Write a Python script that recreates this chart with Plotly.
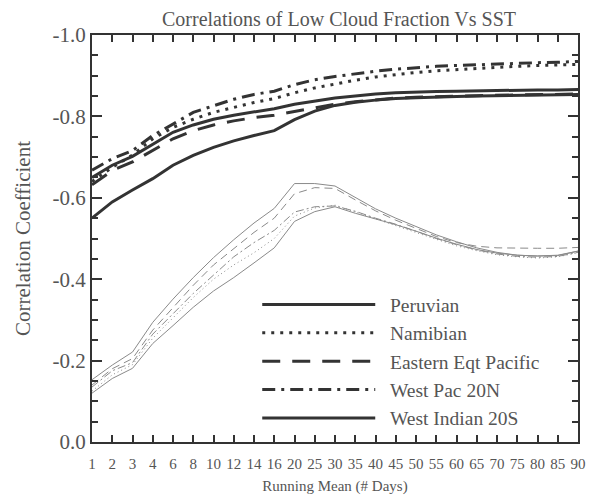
import plotly.graph_objects as go

# Running-mean window lengths (categorical, evenly spaced on the axis)
days = ["1", "2", "3", "4", "6", "8", "10", "12", "14", "16", "20", "25", "30",
        "35", "40", "45", "50", "55", "60", "65", "70", "75", "80", "85", "90"]

# Thick curves (legend series)
peruvian = [-0.650, -0.680, -0.702, -0.732, -0.761, -0.779, -0.793, -0.803, -0.811, -0.819,
            -0.830, -0.838, -0.845, -0.850, -0.855, -0.858, -0.860, -0.861, -0.862, -0.863,
            -0.864, -0.864, -0.865, -0.865, -0.866]
namibian = [-0.640, -0.675, -0.705, -0.745, -0.773, -0.793, -0.810, -0.822, -0.834, -0.844,
            -0.858, -0.870, -0.880, -0.889, -0.897, -0.903, -0.908, -0.912, -0.915, -0.918,
            -0.921, -0.923, -0.925, -0.927, -0.928]
eastern_eqt_pacific = [-0.632, -0.667, -0.688, -0.716, -0.745, -0.765, -0.779, -0.789, -0.797, -0.803,
                       -0.812, -0.822, -0.830, -0.836, -0.841, -0.845, -0.847, -0.849, -0.850, -0.851,
                       -0.852, -0.853, -0.853, -0.854, -0.855]
west_pac_20n = [-0.668, -0.696, -0.716, -0.753, -0.781, -0.810, -0.826, -0.842, -0.854, -0.862,
                -0.878, -0.890, -0.898, -0.905, -0.911, -0.916, -0.920, -0.923, -0.925, -0.927,
                -0.929, -0.931, -0.932, -0.933, -0.935]
west_indian_20s = [-0.550, -0.590, -0.619, -0.647, -0.680, -0.704, -0.724, -0.740, -0.753, -0.765,
                   -0.792, -0.813, -0.827, -0.835, -0.840, -0.844, -0.846, -0.848, -0.849, -0.850,
                   -0.851, -0.852, -0.853, -0.853, -0.854]

# Thin curves (no legend entry)
thin_solid_upper = [-0.153, -0.189, -0.221, -0.294, -0.351, -0.404, -0.453, -0.497, -0.538, -0.574,
                    -0.635, -0.635, -0.629, -0.600, -0.573, -0.550, -0.530, -0.509, -0.492, -0.477,
                    -0.466, -0.459, -0.457, -0.459, -0.469]
thin_dashed = [-0.140, -0.180, -0.205, -0.275, -0.330, -0.385, -0.435, -0.475, -0.515, -0.550,
               -0.610, -0.625, -0.623, -0.595, -0.568, -0.545, -0.525, -0.505, -0.490, -0.481,
               -0.477, -0.476, -0.476, -0.476, -0.478]
thin_dotted = [-0.125, -0.165, -0.190, -0.255, -0.305, -0.355, -0.400, -0.435, -0.465, -0.500,
               -0.555, -0.575, -0.582, -0.565, -0.548, -0.532, -0.515, -0.498, -0.482, -0.470,
               -0.460, -0.455, -0.452, -0.455, -0.465]
thin_dashdot = [-0.135, -0.175, -0.195, -0.265, -0.315, -0.365, -0.410, -0.455, -0.490, -0.520,
                -0.565, -0.578, -0.580, -0.567, -0.550, -0.535, -0.518, -0.500, -0.485, -0.472,
                -0.462, -0.456, -0.454, -0.456, -0.466]
thin_solid_lower = [-0.120, -0.156, -0.181, -0.242, -0.286, -0.331, -0.371, -0.404, -0.440, -0.477,
                    -0.542, -0.566, -0.578, -0.562, -0.548, -0.534, -0.518, -0.501, -0.486, -0.473,
                    -0.464, -0.459, -0.457, -0.458, -0.469]

y_ticks = [-1.0, -0.8, -0.6, -0.4, -0.2, 0.0]
y_ticktext = ["-1.0", "-0.8", "-0.6", "-0.4", "-0.2", "0.0"]

xi = list(range(len(days)))
THICK = "#333333"
THIN = "#8a8a8a"
TEXT = "#555555"
SERIF = "Liberation Serif, Times New Roman, serif"
PAD = "\u00a0\u00a0"  # small gap between legend key and its label

fig = go.Figure()

thin_series = [
    (thin_solid_upper, "solid"),
    (thin_dashed, "8px,5px"),
    (thin_dotted, "1px,3px"),
    (thin_dashdot, "8px,3px,2px,3px"),
    (thin_solid_lower, "solid"),
]
for ys, dash in thin_series:
    fig.add_trace(go.Scatter(x=xi, y=ys, mode="lines", showlegend=False,
                             line=dict(color=THIN, width=1, dash=dash),
                             hoverinfo="skip"))

thick_series = [
    ("Peruvian", peruvian, "solid"),
    ("Namibian", namibian, "3px,6px"),
    ("Eastern Eqt Pacific", eastern_eqt_pacific, "18px,12px"),
    ("West Pac 20N", west_pac_20n, "13px,6px,3px,6px"),
    ("West Indian 20S", west_indian_20s, "solid"),
]
for name, ys, dash in thick_series:
    fig.add_trace(go.Scatter(x=xi, y=ys, mode="lines", name=PAD + name,
                             line=dict(color=THICK, width=3, dash=dash)))

axis_common = dict(showline=True, linecolor=THICK, linewidth=2, mirror="ticks",
                   ticks="inside", tickcolor=THICK, tickwidth=1.5,
                   showgrid=False, zeroline=False)

fig.update_layout(
    width=593, height=499,
    margin=dict(l=92, r=7, t=35, b=53),
    paper_bgcolor="white", plot_bgcolor="white",
    font=dict(family=SERIF, color=TEXT),
    title=dict(text="Correlations of Low Cloud Fraction Vs SST",
               x=(92 + 586) / 2 / 593, xanchor="center", y=1 - 19 / 499, yanchor="middle",
               font=dict(size=20, family=SERIF, color=TEXT)),
    xaxis=dict(range=[0, 24], tickmode="array", tickvals=xi, ticktext=days,
               ticklen=7, ticklabelstandoff=7, tickfont=dict(size=15, family=SERIF, color=TEXT),
               title=dict(text="Running Mean (# Days)", font=dict(size=15, family=SERIF, color=TEXT),
                          standoff=9),
               **axis_common),
    yaxis=dict(range=[0, -1.0], tickmode="array", tickvals=y_ticks, ticktext=y_ticktext,
               ticklen=10, tickfont=dict(size=21, family=SERIF, color=TEXT),
               minor=dict(dtick=0.05, ticks="inside", ticklen=6, tickcolor=THICK, tickwidth=1.5),
               title=dict(text="Correlation Coefficient", font=dict(size=21, family=SERIF, color=TEXT),
                          standoff=16),
               **axis_common),
    legend=dict(x=0.34, y=0.385, xanchor="left", yanchor="top",
                bgcolor="rgba(0,0,0,0)", itemwidth=113,
                font=dict(size=19.5, family=SERIF, color=TEXT),
                tracegroupgap=0),
)

fig.write_html("out.html")
